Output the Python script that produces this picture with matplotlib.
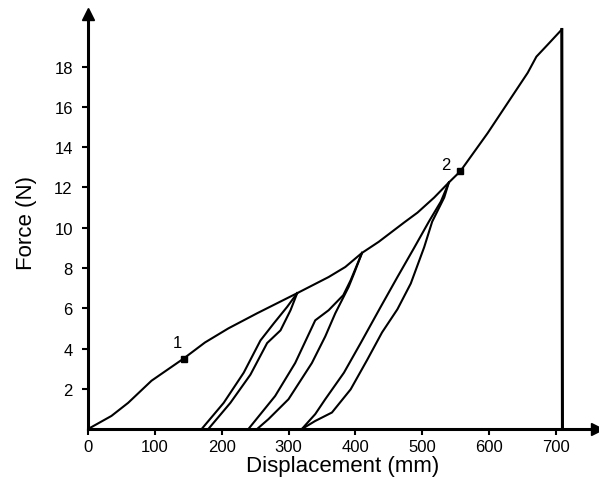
import matplotlib
matplotlib.use("Agg")
import matplotlib.pyplot as plt

plt.rcParams['font.family'] = ['Liberation Sans', 'DejaVu Sans']

# Envelope (loading curve) up to failure
env_x = [0, 35, 60, 95, 143, 175, 210, 253, 313, 360, 385, 410, 435, 473, 493,
         518, 540, 557, 598, 618, 658, 671, 688, 709]
env_y = [0, 0.65, 1.3, 2.4, 3.5, 4.3, 5.0, 5.75, 6.75, 7.55, 8.05, 8.75, 9.3,
         10.26, 10.75, 11.5, 12.25, 12.8, 14.7, 15.7, 17.7, 18.5, 19.1, 19.85]

# Failure drop
drop_x = [709, 710]
drop_y = [19.85, 0]

# Unloading / reloading loops
loop1a_x = [170, 203, 233, 258, 278, 298, 313]
loop1a_y = [0, 1.3, 2.8, 4.4, 5.25, 6.07, 6.75]
loop1b_x = [180, 213, 243, 268, 288, 303, 313]
loop1b_y = [0, 1.3, 2.7, 4.27, 4.9, 5.9, 6.75]

loop2a_x = [240, 260, 280, 310, 340, 360, 382, 393, 410]
loop2a_y = [0, 0.82, 1.64, 3.28, 5.4, 5.9, 6.65, 7.39, 8.75]
loop2b_x = [253, 270, 300, 335, 355, 370, 390, 398, 410]
loop2b_y = [0, 0.49, 1.48, 3.28, 4.6, 5.75, 7.06, 7.72, 8.75]

loop3a_x = [320, 340, 355, 383, 408, 438, 463, 488, 510, 528, 540]
loop3a_y = [0, 0.74, 1.48, 2.8, 4.27, 6.07, 7.55, 9.0, 10.3, 11.3, 12.25]
loop3b_x = [320, 340, 365, 393, 418, 440, 463, 483, 503, 515, 533, 540]
loop3b_y = [0, 0.4, 0.82, 1.97, 3.45, 4.8, 5.95, 7.23, 9.03, 10.3, 11.5, 12.25]

# Marked points
mark_x = [143, 557]
mark_y = [3.5, 12.8]
mark_labels = ['1', '2']

x_ticks = [0, 100, 200, 300, 400, 500, 600, 700]
y_ticks = [2, 4, 6, 8, 10, 12, 14, 16, 18]

fig = plt.figure(figsize=(5.99, 4.81), dpi=100)
ax = fig.add_axes([0.147, 0.106, 0.85, 0.862])

lw = 1.5
ax.plot(env_x, env_y, color='black', lw=lw)
ax.plot(drop_x, drop_y, color='black', lw=2.2)
for xs, ys in [(loop1a_x, loop1a_y), (loop1b_x, loop1b_y),
               (loop2a_x, loop2a_y), (loop2b_x, loop2b_y),
               (loop3a_x, loop3a_y), (loop3b_x, loop3b_y)]:
    ax.plot(xs, ys, color='black', lw=lw)

ax.plot(mark_x, mark_y, 's', color='black', ms=4)
ax.annotate(mark_labels[0], (mark_x[0], mark_y[0]), xytext=(-8, 8),
            textcoords='offset points', fontsize=12)
ax.annotate(mark_labels[1], (mark_x[1], mark_y[1]), xytext=(-14, 2),
            textcoords='offset points', fontsize=12)

ax.set_xlim(0, 762)
ax.set_ylim(0, 20.6)
ax.set_xticks(x_ticks)
ax.set_yticks(y_ticks)
ax.tick_params(labelsize=12, width=1.5, length=4, direction='out')
ax.tick_params(axis='x', pad=3)
ax.tick_params(axis='y', pad=7)

for s in ['top', 'right']:
    ax.spines[s].set_visible(False)
for s in ['left', 'bottom']:
    ax.spines[s].set_linewidth(2.2)

# axis arrows
ax.plot(0, 1, '^', color='black', ms=8, transform=ax.transAxes, clip_on=False)
ax.plot(1, 0, '>', color='black', ms=8, transform=ax.transAxes, clip_on=False)

ax.set_xlabel('Displacement (mm)', fontsize=16, labelpad=1)
ax.set_ylabel('Force (N)', fontsize=16, labelpad=12)

fig.savefig('out.png', dpi=100)
